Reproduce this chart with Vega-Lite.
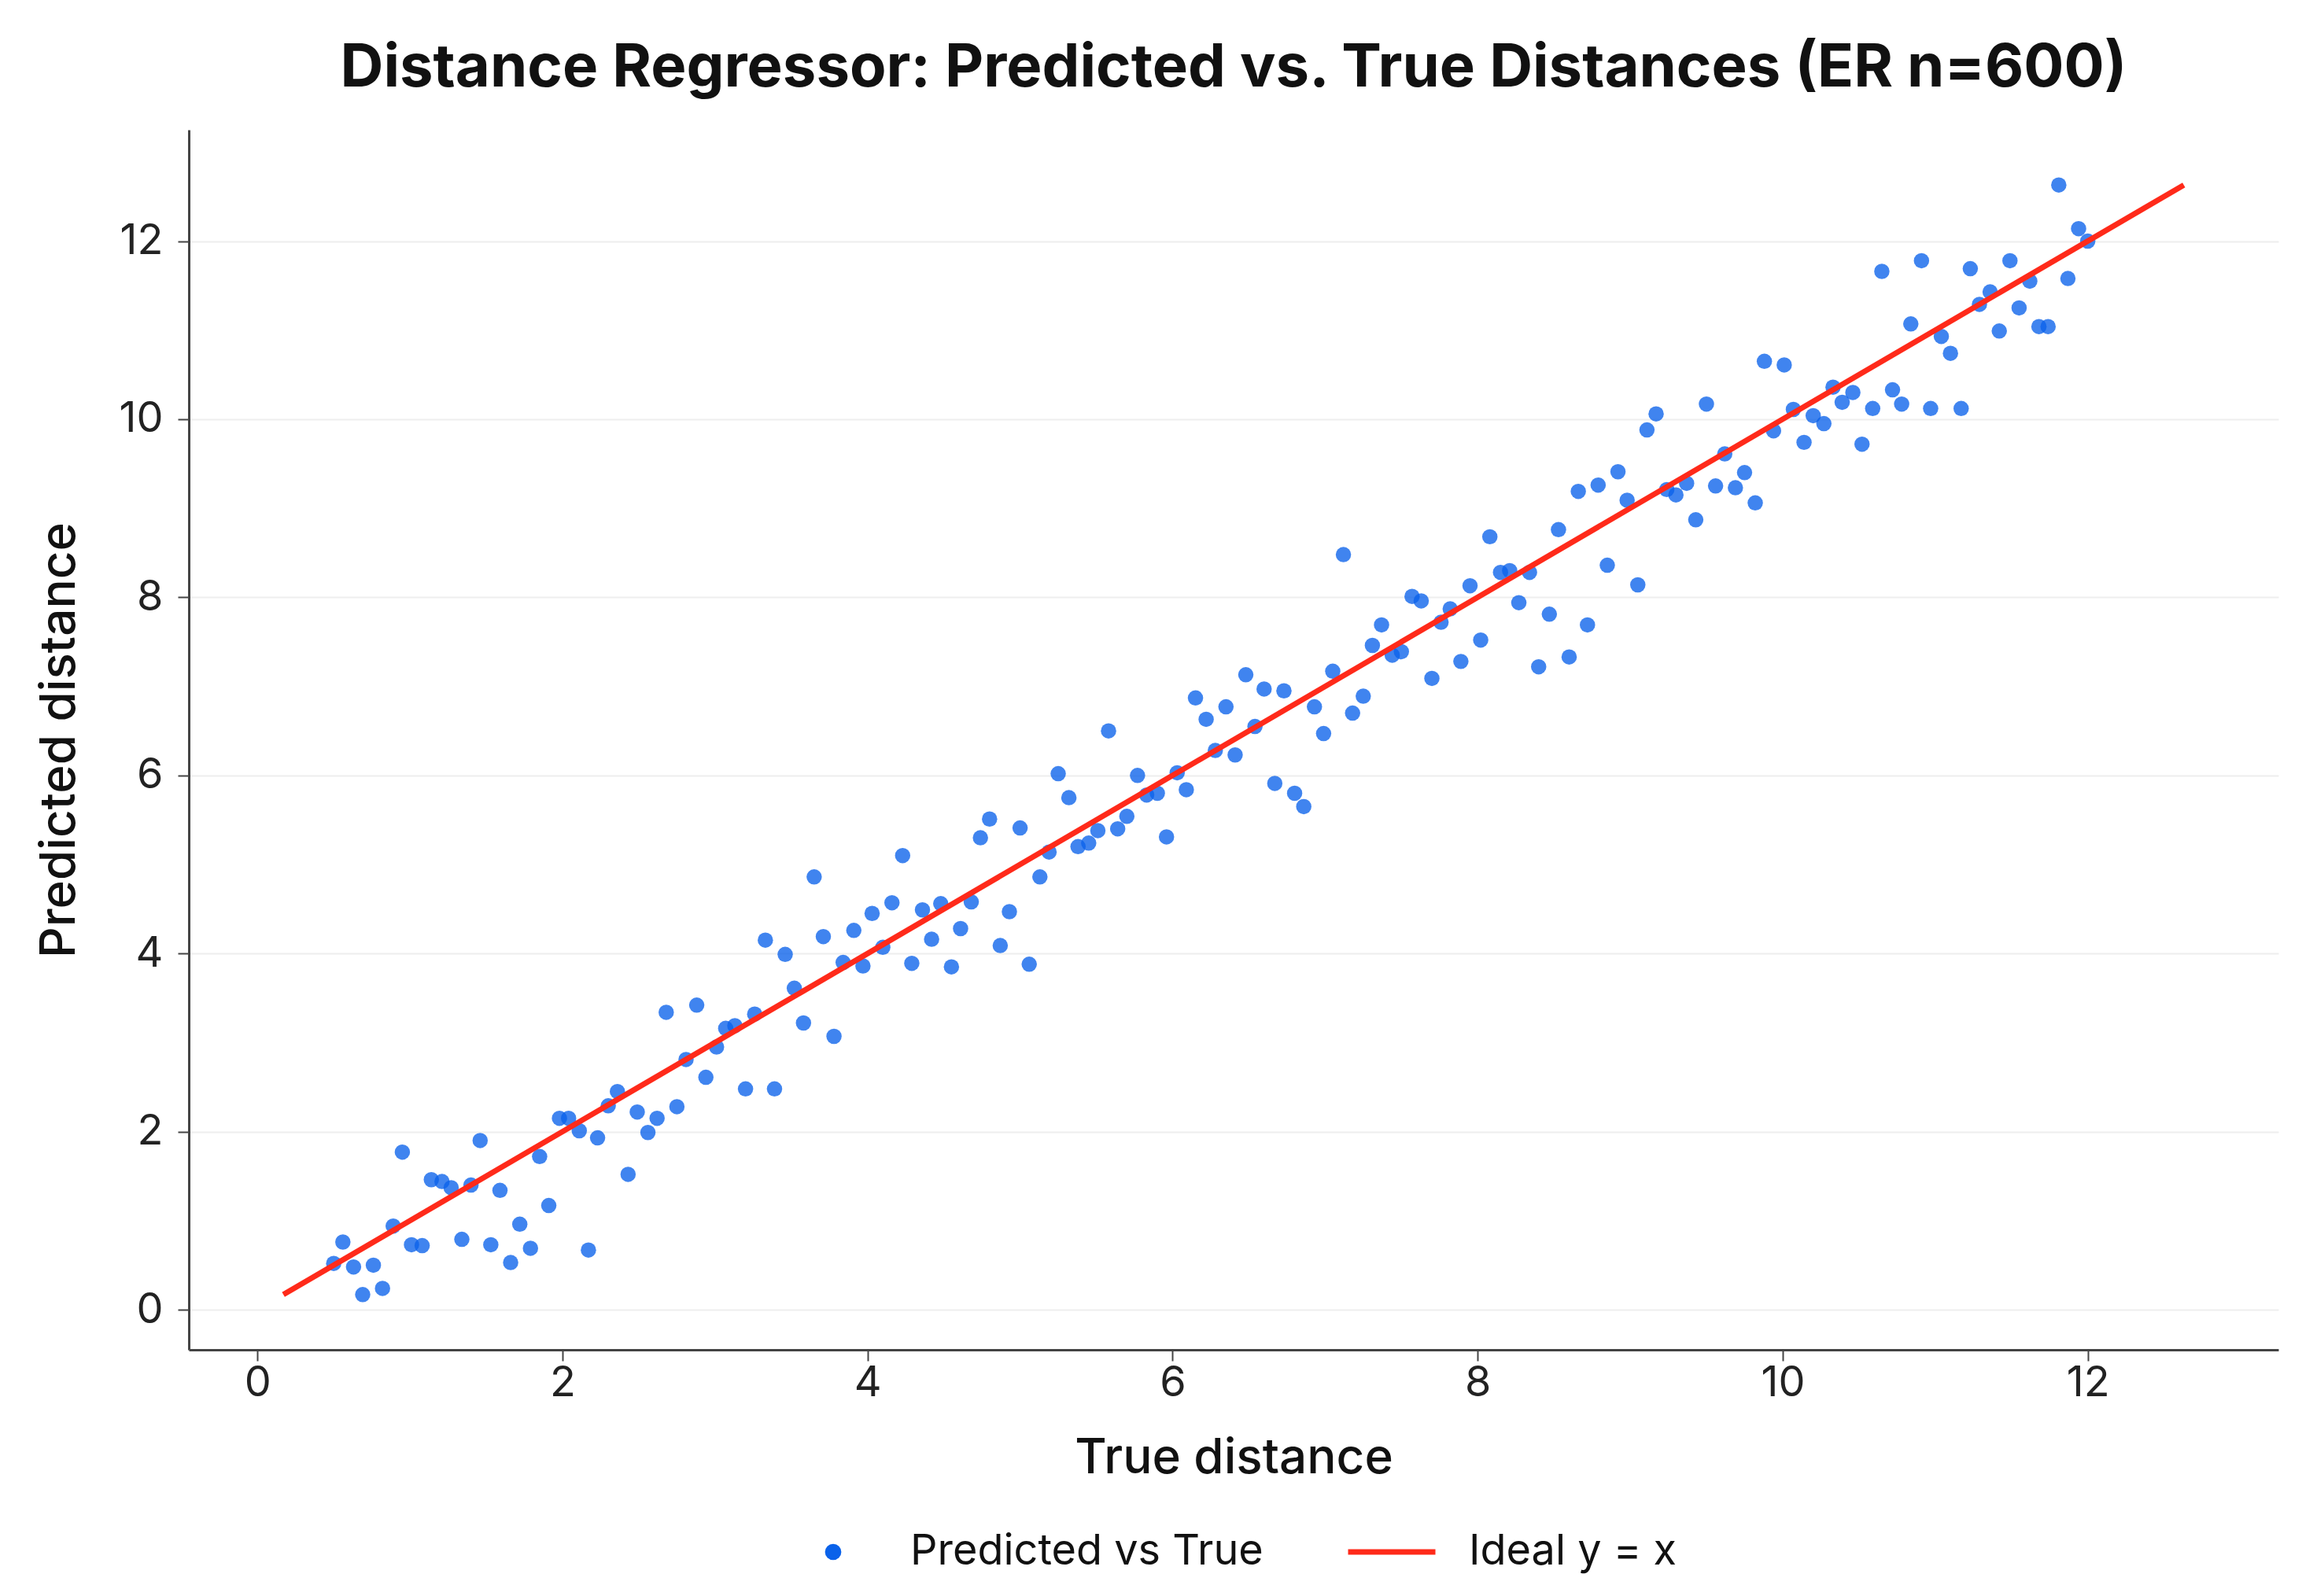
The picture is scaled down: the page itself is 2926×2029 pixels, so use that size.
{
  "$schema": "https://vega.github.io/schema/vega-lite/v6.json",
  "autosize": {"type": "none"},
  "padding": {"left": 240, "top": 165, "right": 30, "bottom": 313},
  "width": 2656,
  "height": 1551,
  "background": "white",
  "title": {
    "text": "Distance Regressor: Predicted vs. True Distances (ER n=600)",
    "font": "Inter",
    "fontSize": 76,
    "fontWeight": "bold",
    "color": "#111111",
    "anchor": "middle",
    "baseline": "bottom",
    "offset": -37
  },
  "config": {
    "view": {"stroke": null},
    "font": "Inter"
  },
  "datasets": {
    "pts": [
      {"true_d": 0.50, "pred": 0.52, "series": "Predicted vs True"},
      {"true_d": 0.56, "pred": 0.76, "series": "Predicted vs True"},
      {"true_d": 0.63, "pred": 0.48, "series": "Predicted vs True"},
      {"true_d": 0.69, "pred": 0.17, "series": "Predicted vs True"},
      {"true_d": 0.76, "pred": 0.50, "series": "Predicted vs True"},
      {"true_d": 0.82, "pred": 0.24, "series": "Predicted vs True"},
      {"true_d": 0.89, "pred": 0.94, "series": "Predicted vs True"},
      {"true_d": 0.95, "pred": 1.77, "series": "Predicted vs True"},
      {"true_d": 1.01, "pred": 0.73, "series": "Predicted vs True"},
      {"true_d": 1.08, "pred": 0.72, "series": "Predicted vs True"},
      {"true_d": 1.14, "pred": 1.46, "series": "Predicted vs True"},
      {"true_d": 1.21, "pred": 1.44, "series": "Predicted vs True"},
      {"true_d": 1.27, "pred": 1.37, "series": "Predicted vs True"},
      {"true_d": 1.34, "pred": 0.79, "series": "Predicted vs True"},
      {"true_d": 1.40, "pred": 1.40, "series": "Predicted vs True"},
      {"true_d": 1.46, "pred": 1.90, "series": "Predicted vs True"},
      {"true_d": 1.53, "pred": 0.73, "series": "Predicted vs True"},
      {"true_d": 1.59, "pred": 1.34, "series": "Predicted vs True"},
      {"true_d": 1.66, "pred": 0.53, "series": "Predicted vs True"},
      {"true_d": 1.72, "pred": 0.96, "series": "Predicted vs True"},
      {"true_d": 1.79, "pred": 0.69, "series": "Predicted vs True"},
      {"true_d": 1.85, "pred": 1.72, "series": "Predicted vs True"},
      {"true_d": 1.91, "pred": 1.17, "series": "Predicted vs True"},
      {"true_d": 1.98, "pred": 2.15, "series": "Predicted vs True"},
      {"true_d": 2.04, "pred": 2.15, "series": "Predicted vs True"},
      {"true_d": 2.11, "pred": 2.01, "series": "Predicted vs True"},
      {"true_d": 2.17, "pred": 0.67, "series": "Predicted vs True"},
      {"true_d": 2.23, "pred": 1.93, "series": "Predicted vs True"},
      {"true_d": 2.30, "pred": 2.29, "series": "Predicted vs True"},
      {"true_d": 2.36, "pred": 2.45, "series": "Predicted vs True"},
      {"true_d": 2.43, "pred": 1.52, "series": "Predicted vs True"},
      {"true_d": 2.49, "pred": 2.22, "series": "Predicted vs True"},
      {"true_d": 2.56, "pred": 1.99, "series": "Predicted vs True"},
      {"true_d": 2.62, "pred": 2.15, "series": "Predicted vs True"},
      {"true_d": 2.68, "pred": 3.34, "series": "Predicted vs True"},
      {"true_d": 2.75, "pred": 2.28, "series": "Predicted vs True"},
      {"true_d": 2.81, "pred": 2.81, "series": "Predicted vs True"},
      {"true_d": 2.88, "pred": 3.42, "series": "Predicted vs True"},
      {"true_d": 2.94, "pred": 2.61, "series": "Predicted vs True"},
      {"true_d": 3.01, "pred": 2.95, "series": "Predicted vs True"},
      {"true_d": 3.07, "pred": 3.16, "series": "Predicted vs True"},
      {"true_d": 3.13, "pred": 3.19, "series": "Predicted vs True"},
      {"true_d": 3.20, "pred": 2.48, "series": "Predicted vs True"},
      {"true_d": 3.26, "pred": 3.32, "series": "Predicted vs True"},
      {"true_d": 3.33, "pred": 4.15, "series": "Predicted vs True"},
      {"true_d": 3.39, "pred": 2.48, "series": "Predicted vs True"},
      {"true_d": 3.46, "pred": 3.99, "series": "Predicted vs True"},
      {"true_d": 3.52, "pred": 3.61, "series": "Predicted vs True"},
      {"true_d": 3.58, "pred": 3.22, "series": "Predicted vs True"},
      {"true_d": 3.65, "pred": 4.86, "series": "Predicted vs True"},
      {"true_d": 3.71, "pred": 4.19, "series": "Predicted vs True"},
      {"true_d": 3.78, "pred": 3.07, "series": "Predicted vs True"},
      {"true_d": 3.84, "pred": 3.90, "series": "Predicted vs True"},
      {"true_d": 3.91, "pred": 4.26, "series": "Predicted vs True"},
      {"true_d": 3.97, "pred": 3.86, "series": "Predicted vs True"},
      {"true_d": 4.03, "pred": 4.45, "series": "Predicted vs True"},
      {"true_d": 4.10, "pred": 4.07, "series": "Predicted vs True"},
      {"true_d": 4.16, "pred": 4.57, "series": "Predicted vs True"},
      {"true_d": 4.23, "pred": 5.10, "series": "Predicted vs True"},
      {"true_d": 4.29, "pred": 3.89, "series": "Predicted vs True"},
      {"true_d": 4.36, "pred": 4.49, "series": "Predicted vs True"},
      {"true_d": 4.42, "pred": 4.16, "series": "Predicted vs True"},
      {"true_d": 4.48, "pred": 4.56, "series": "Predicted vs True"},
      {"true_d": 4.55, "pred": 3.85, "series": "Predicted vs True"},
      {"true_d": 4.61, "pred": 4.28, "series": "Predicted vs True"},
      {"true_d": 4.68, "pred": 4.58, "series": "Predicted vs True"},
      {"true_d": 4.74, "pred": 5.30, "series": "Predicted vs True"},
      {"true_d": 4.80, "pred": 5.51, "series": "Predicted vs True"},
      {"true_d": 4.87, "pred": 4.09, "series": "Predicted vs True"},
      {"true_d": 4.93, "pred": 4.47, "series": "Predicted vs True"},
      {"true_d": 5.00, "pred": 5.41, "series": "Predicted vs True"},
      {"true_d": 5.06, "pred": 3.88, "series": "Predicted vs True"},
      {"true_d": 5.13, "pred": 4.86, "series": "Predicted vs True"},
      {"true_d": 5.19, "pred": 5.14, "series": "Predicted vs True"},
      {"true_d": 5.25, "pred": 6.02, "series": "Predicted vs True"},
      {"true_d": 5.32, "pred": 5.75, "series": "Predicted vs True"},
      {"true_d": 5.38, "pred": 5.20, "series": "Predicted vs True"},
      {"true_d": 5.45, "pred": 5.24, "series": "Predicted vs True"},
      {"true_d": 5.51, "pred": 5.38, "series": "Predicted vs True"},
      {"true_d": 5.58, "pred": 6.50, "series": "Predicted vs True"},
      {"true_d": 5.64, "pred": 5.40, "series": "Predicted vs True"},
      {"true_d": 5.70, "pred": 5.54, "series": "Predicted vs True"},
      {"true_d": 5.77, "pred": 6.00, "series": "Predicted vs True"},
      {"true_d": 5.83, "pred": 5.78, "series": "Predicted vs True"},
      {"true_d": 5.90, "pred": 5.80, "series": "Predicted vs True"},
      {"true_d": 5.96, "pred": 5.31, "series": "Predicted vs True"},
      {"true_d": 6.03, "pred": 6.03, "series": "Predicted vs True"},
      {"true_d": 6.09, "pred": 5.84, "series": "Predicted vs True"},
      {"true_d": 6.15, "pred": 6.87, "series": "Predicted vs True"},
      {"true_d": 6.22, "pred": 6.63, "series": "Predicted vs True"},
      {"true_d": 6.28, "pred": 6.28, "series": "Predicted vs True"},
      {"true_d": 6.35, "pred": 6.77, "series": "Predicted vs True"},
      {"true_d": 6.41, "pred": 6.23, "series": "Predicted vs True"},
      {"true_d": 6.48, "pred": 7.13, "series": "Predicted vs True"},
      {"true_d": 6.54, "pred": 6.55, "series": "Predicted vs True"},
      {"true_d": 6.60, "pred": 6.97, "series": "Predicted vs True"},
      {"true_d": 6.67, "pred": 5.91, "series": "Predicted vs True"},
      {"true_d": 6.73, "pred": 6.95, "series": "Predicted vs True"},
      {"true_d": 6.80, "pred": 5.80, "series": "Predicted vs True"},
      {"true_d": 6.86, "pred": 5.65, "series": "Predicted vs True"},
      {"true_d": 6.93, "pred": 6.77, "series": "Predicted vs True"},
      {"true_d": 6.99, "pred": 6.47, "series": "Predicted vs True"},
      {"true_d": 7.05, "pred": 7.17, "series": "Predicted vs True"},
      {"true_d": 7.12, "pred": 8.48, "series": "Predicted vs True"},
      {"true_d": 7.18, "pred": 6.70, "series": "Predicted vs True"},
      {"true_d": 7.25, "pred": 6.89, "series": "Predicted vs True"},
      {"true_d": 7.31, "pred": 7.46, "series": "Predicted vs True"},
      {"true_d": 7.37, "pred": 7.69, "series": "Predicted vs True"},
      {"true_d": 7.44, "pred": 7.35, "series": "Predicted vs True"},
      {"true_d": 7.50, "pred": 7.39, "series": "Predicted vs True"},
      {"true_d": 7.57, "pred": 8.01, "series": "Predicted vs True"},
      {"true_d": 7.63, "pred": 7.96, "series": "Predicted vs True"},
      {"true_d": 7.70, "pred": 7.09, "series": "Predicted vs True"},
      {"true_d": 7.76, "pred": 7.72, "series": "Predicted vs True"},
      {"true_d": 7.82, "pred": 7.87, "series": "Predicted vs True"},
      {"true_d": 7.89, "pred": 7.28, "series": "Predicted vs True"},
      {"true_d": 7.95, "pred": 8.13, "series": "Predicted vs True"},
      {"true_d": 8.02, "pred": 7.52, "series": "Predicted vs True"},
      {"true_d": 8.08, "pred": 8.68, "series": "Predicted vs True"},
      {"true_d": 8.15, "pred": 8.28, "series": "Predicted vs True"},
      {"true_d": 8.21, "pred": 8.30, "series": "Predicted vs True"},
      {"true_d": 8.27, "pred": 7.94, "series": "Predicted vs True"},
      {"true_d": 8.34, "pred": 8.28, "series": "Predicted vs True"},
      {"true_d": 8.40, "pred": 7.22, "series": "Predicted vs True"},
      {"true_d": 8.47, "pred": 7.81, "series": "Predicted vs True"},
      {"true_d": 8.53, "pred": 8.76, "series": "Predicted vs True"},
      {"true_d": 8.60, "pred": 7.33, "series": "Predicted vs True"},
      {"true_d": 8.66, "pred": 9.19, "series": "Predicted vs True"},
      {"true_d": 8.72, "pred": 7.69, "series": "Predicted vs True"},
      {"true_d": 8.79, "pred": 9.26, "series": "Predicted vs True"},
      {"true_d": 8.85, "pred": 8.36, "series": "Predicted vs True"},
      {"true_d": 8.92, "pred": 9.41, "series": "Predicted vs True"},
      {"true_d": 8.98, "pred": 9.09, "series": "Predicted vs True"},
      {"true_d": 9.05, "pred": 8.14, "series": "Predicted vs True"},
      {"true_d": 9.11, "pred": 9.88, "series": "Predicted vs True"},
      {"true_d": 9.17, "pred": 10.06, "series": "Predicted vs True"},
      {"true_d": 9.24, "pred": 9.21, "series": "Predicted vs True"},
      {"true_d": 9.30, "pred": 9.15, "series": "Predicted vs True"},
      {"true_d": 9.37, "pred": 9.28, "series": "Predicted vs True"},
      {"true_d": 9.43, "pred": 8.87, "series": "Predicted vs True"},
      {"true_d": 9.50, "pred": 10.17, "series": "Predicted vs True"},
      {"true_d": 9.56, "pred": 9.25, "series": "Predicted vs True"},
      {"true_d": 9.62, "pred": 9.61, "series": "Predicted vs True"},
      {"true_d": 9.69, "pred": 9.23, "series": "Predicted vs True"},
      {"true_d": 9.75, "pred": 9.40, "series": "Predicted vs True"},
      {"true_d": 9.82, "pred": 9.06, "series": "Predicted vs True"},
      {"true_d": 9.88, "pred": 10.65, "series": "Predicted vs True"},
      {"true_d": 9.94, "pred": 9.87, "series": "Predicted vs True"},
      {"true_d": 10.01, "pred": 10.61, "series": "Predicted vs True"},
      {"true_d": 10.07, "pred": 10.11, "series": "Predicted vs True"},
      {"true_d": 10.14, "pred": 9.74, "series": "Predicted vs True"},
      {"true_d": 10.20, "pred": 10.04, "series": "Predicted vs True"},
      {"true_d": 10.27, "pred": 9.95, "series": "Predicted vs True"},
      {"true_d": 10.33, "pred": 10.36, "series": "Predicted vs True"},
      {"true_d": 10.39, "pred": 10.19, "series": "Predicted vs True"},
      {"true_d": 10.46, "pred": 10.30, "series": "Predicted vs True"},
      {"true_d": 10.52, "pred": 9.72, "series": "Predicted vs True"},
      {"true_d": 10.59, "pred": 10.12, "series": "Predicted vs True"},
      {"true_d": 10.65, "pred": 11.66, "series": "Predicted vs True"},
      {"true_d": 10.72, "pred": 10.33, "series": "Predicted vs True"},
      {"true_d": 10.78, "pred": 10.17, "series": "Predicted vs True"},
      {"true_d": 10.84, "pred": 11.07, "series": "Predicted vs True"},
      {"true_d": 10.91, "pred": 11.78, "series": "Predicted vs True"},
      {"true_d": 10.97, "pred": 10.12, "series": "Predicted vs True"},
      {"true_d": 11.04, "pred": 10.93, "series": "Predicted vs True"},
      {"true_d": 11.10, "pred": 10.74, "series": "Predicted vs True"},
      {"true_d": 11.17, "pred": 10.12, "series": "Predicted vs True"},
      {"true_d": 11.23, "pred": 11.69, "series": "Predicted vs True"},
      {"true_d": 11.29, "pred": 11.29, "series": "Predicted vs True"},
      {"true_d": 11.36, "pred": 11.43, "series": "Predicted vs True"},
      {"true_d": 11.42, "pred": 10.99, "series": "Predicted vs True"},
      {"true_d": 11.49, "pred": 11.78, "series": "Predicted vs True"},
      {"true_d": 11.55, "pred": 11.25, "series": "Predicted vs True"},
      {"true_d": 11.62, "pred": 11.55, "series": "Predicted vs True"},
      {"true_d": 11.68, "pred": 11.04, "series": "Predicted vs True"},
      {"true_d": 11.74, "pred": 11.04, "series": "Predicted vs True"},
      {"true_d": 11.81, "pred": 12.63, "series": "Predicted vs True"},
      {"true_d": 11.87, "pred": 11.58, "series": "Predicted vs True"},
      {"true_d": 11.94, "pred": 12.14, "series": "Predicted vs True"},
      {"true_d": 12.00, "pred": 12.00, "series": "Predicted vs True"}
    ],
    "ideal": [
      {"true_d": 0.17, "pred": 0.17, "series": "Ideal y = x"},
      {"true_d": 12.63, "pred": 12.63, "series": "Ideal y = x"}
    ]
  },
  "encoding": {
    "x": {
      "field": "true_d",
      "type": "quantitative",
      "title": "True distance",
      "scale": {"domain": [-0.45, 13.25], "nice": false, "zero": false},
      "axis": {
        "values": [0, 2, 4, 6, 8, 10, 12],
        "grid": false,
        "domainColor": "#444444",
        "domainWidth": 3,
        "tickColor": "#444444",
        "tickWidth": 2,
        "tickSize": 14,
        "labelFont": "Inter",
        "labelFontSize": 54,
        "labelColor": "#222222",
        "labelPadding": 1,
        "titleFont": "Inter",
        "titleFontSize": 62,
        "titleFontWeight": 500,
        "titleColor": "#111111",
        "titlePadding": 38
      }
    },
    "y": {
      "field": "pred",
      "type": "quantitative",
      "title": "Predicted distance",
      "scale": {"domain": [-0.45, 13.25], "nice": false, "zero": false},
      "axis": {
        "values": [0, 2, 4, 6, 8, 10, 12],
        "grid": true,
        "gridColor": "#eeeeee",
        "gridWidth": 2,
        "domainColor": "#444444",
        "domainWidth": 3,
        "tickColor": "#444444",
        "tickWidth": 2,
        "tickSize": 14,
        "labelFont": "Inter",
        "labelFontSize": 54,
        "labelColor": "#222222",
        "labelPadding": 19,
        "titleFont": "Inter",
        "titleFontSize": 62,
        "titleFontWeight": 500,
        "titleColor": "#111111",
        "titlePadding": 43
      }
    },
    "color": {
      "field": "series",
      "type": "nominal",
      "scale": {"domain": ["Predicted vs True", "Ideal y = x"], "range": ["#0a62ea", "#ff2a1a"]},
      "legend": {
        "title": null,
        "orient": "none",
        "direction": "horizontal",
        "legendX": 792,
        "legendY": 1781,
        "symbolSize": 12321,
        "labelFont": "Inter",
        "labelFontSize": 54,
        "labelLimit": 0,
        "labelColor": "#111111",
        "labelOffset": 71,
        "columnPadding": 93,
        "encode": {
          "symbols": {
            "update": {
              "shape": {"signal": "datum.value === 'Ideal y = x' ? 'stroke' : 'circle'"},
              "size": {"signal": "datum.value === 'Ideal y = x' ? 12321 : 430"},
              "strokeWidth": {"signal": "datum.value === 'Ideal y = x' ? 7 : 0"},
              "stroke": {"signal": "datum.value === 'Ideal y = x' ? '#ff2a1a' : 'transparent'"},
              "fill": {"signal": "datum.value === 'Ideal y = x' ? 'transparent' : '#4a8ef5'"},
              "opacity": {"value": 1}
            }
          }
        }
      }
    }
  },
  "layer": [
    {
      "data": {"name": "pts"},
      "mark": {"type": "point", "filled": true, "shape": "circle", "size": 380, "opacity": 0.78, "strokeWidth": 0}
    },
    {
      "data": {"name": "ideal"},
      "mark": {"type": "line", "strokeWidth": 7}
    }
  ]
}
